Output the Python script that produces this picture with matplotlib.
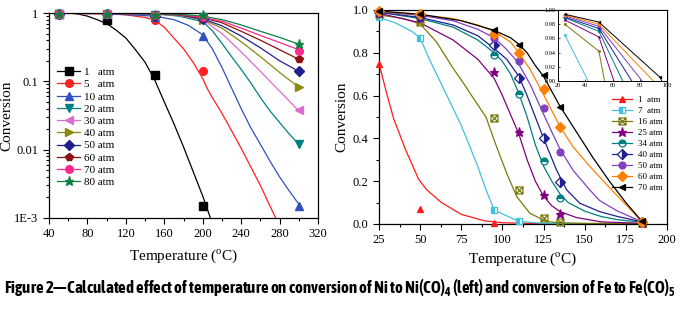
import numpy as np
import matplotlib
matplotlib.use('Agg')
import matplotlib.pyplot as plt
from matplotlib.lines import Line2D
from matplotlib.path import Path
from matplotlib.ticker import MultipleLocator, LogLocator, NullFormatter
from matplotlib import font_manager

nan = np.nan

# ---------------- left panel : Ni -> Ni(CO)4 ----------------
left_labels = ['1   atm', '5   atm', '10 atm', '20 atm', '30 atm', '40 atm', '50 atm', '60 atm', '70 atm', '80 atm']
left_cols = ['black', '#ff2020', '#3050c0', '#008080', '#dc6cd0', '#8a8a10', '#20208a', '#8b1010', '#ff2a8a', '#108040']
left_marks = ['s', 'o', '^', 'v', '<', '>', 'D', 'p', 'o', '*']

# data points (markers)
left_mk_T = [50, 100, 150, 200, 300]
left_mk = [
    [0.97, 0.80, 0.125, 0.0015, nan],
    [0.97, 0.97, 0.78, 0.14, nan],
    [0.97, 0.97, 0.88, 0.46, 0.0015],
    [0.97, 0.98, 0.93, 0.86, 0.012],
    [0.97, 0.98, 0.90, 0.84, 0.038],
    [0.97, 0.98, 0.91, 0.78, 0.082],
    [0.97, 0.98, 0.91, 0.82, 0.14],
    [0.97, 0.98, 0.92, 0.86, 0.21],
    [0.97, 0.98, 0.93, 0.88, 0.28],
    [0.97, 0.98, 0.95, 0.92, 0.35],
]

# calculated curves
c1_T = [50, 55, 60, 70, 80, 90, 100, 110, 120, 130, 140, 150, 160, 170, 180, 190, 200, 208]
c1_v = [0.97, 0.99, 1.0, 0.97, 0.9, 0.8, 0.7, 0.56, 0.43, 0.29, 0.19, 0.105, 0.05, 0.024, 0.011, 0.0048, 0.0021, 0.001]
c5_T = [50, 100, 120, 140, 150, 160, 170, 180, 190, 200, 205, 210, 220, 230, 240, 250, 260, 270, 276]
c5_v = [0.99, 0.97, 0.94, 0.86, 0.79, 0.62, 0.43, 0.3, 0.19, 0.11, 0.077, 0.058, 0.034, 0.019, 0.0105, 0.0056, 0.003, 0.0015, 0.001]
c10_T = [50, 100, 150, 170, 185, 200, 210, 220, 230, 240, 250, 260, 270, 280, 290, 300]
c10_v = [0.99, 0.98, 0.9, 0.8, 0.66, 0.48, 0.3, 0.16, 0.08, 0.04, 0.021, 0.012, 0.0068, 0.004, 0.0025, 0.0016]
c20_T = [50, 100, 150, 175, 200, 210, 220, 230, 240, 250, 260, 270, 280, 290, 300]
c20_v = [1.0, 0.99, 0.97, 0.9, 0.75, 0.55, 0.36, 0.23, 0.15, 0.095, 0.058, 0.037, 0.025, 0.017, 0.012]
cH_T = [50, 100, 150, 175, 200, 220, 240, 260, 280, 300]
c30_v = [1.0, 0.99, 0.97, 0.92, 0.8, 0.5, 0.27, 0.14, 0.072, 0.037]
c40_v = [1.0, 0.99, 0.97, 0.93, 0.8, 0.6, 0.38, 0.23, 0.135, 0.082]
c50_v = [1.0, 0.99, 0.97, 0.94, 0.82, 0.65, 0.46, 0.31, 0.2, 0.14]
c60_v = [1.0, 0.99, 0.98, 0.95, 0.85, 0.72, 0.54, 0.4, 0.29, 0.21]
c70_v = [1.0, 0.99, 0.98, 0.95, 0.86, 0.76, 0.6, 0.47, 0.37, 0.29]
c80_v = [1.0, 0.99, 0.98, 0.96, 0.9, 0.8, 0.67, 0.54, 0.44, 0.35]
left_curves = [(c1_T, c1_v), (c5_T, c5_v), (c10_T, c10_v), (c20_T, c20_v),
               (cH_T, c30_v), (cH_T, c40_v), (cH_T, c50_v), (cH_T, c60_v), (cH_T, c70_v), (cH_T, c80_v)]

# ---------------- right panel : Fe -> Fe(CO)5 ----------------
right_labels = ['1  atm', '7  atm', '16 atm', '25 atm', '34 atm', '40 atm', '50 atm', '60 atm', '70 atm']
right_cols = ['#ff1a1a', '#40c0e0', '#7a7a10', '#800080', '#008080', '#202090', '#8040c0', '#ff8000', 'black']

right_mk_T = [25, 50, 95, 110, 125, 135, 185]
right_mk = [
    [0.75, 0.07, 0.005, nan, nan, nan, nan],
    [0.965, 0.87, 0.065, 0.014, nan, nan, nan],
    [0.98, 0.942, 0.494, 0.159, 0.026, 0.011, 0.005],
    [0.986, 0.962, 0.71, 0.43, 0.135, 0.045, 0.005],
    [0.989, 0.97, 0.79, 0.607, 0.294, 0.12, 0.01],
    [0.99, 0.974, 0.836, 0.68, 0.40, 0.198, 0.01],
    [0.992, 0.977, 0.868, 0.76, 0.54, 0.338, 0.01],
    [0.993, 0.98, 0.89, 0.80, 0.63, 0.455, 0.01],
    [0.994, 0.983, 0.905, 0.836, 0.695, 0.548, 0.015],
]

r1_T = [25, 30, 34, 41, 49, 54, 63, 75, 89, 100, 125, 150, 185]
r1_v = [0.75, 0.6, 0.49, 0.35, 0.21, 0.16, 0.1, 0.045, 0.015, 0.006, 0.001, 0.0, 0.0]
r7_T = [25, 35, 45, 50, 55, 65, 75, 85, 90, 95, 110, 125, 150, 185]
r7_v = [0.965, 0.94, 0.9, 0.87, 0.78, 0.62, 0.46, 0.27, 0.16, 0.065, 0.012, 0.003, 0.0, 0.0]
r16_T = [25, 40, 50, 60, 69, 77, 83, 90, 96.5, 102.6, 108.7, 116.7, 127, 135, 150, 185]
r16_v = [0.977, 0.96, 0.935, 0.85, 0.74, 0.65, 0.58, 0.5, 0.36, 0.237, 0.128, 0.05, 0.011, 0.006, 0.003, 0.002]
r25_T = [25, 50, 70, 85, 95, 100, 105, 110, 115, 120, 125, 130, 135, 145, 160, 185]
r25_v = [0.985, 0.94, 0.86, 0.77, 0.68, 0.6, 0.51, 0.42, 0.3, 0.2, 0.13, 0.085, 0.058, 0.03, 0.01, 0.003]
r34_T = [25, 50, 70, 85, 95, 100, 105, 110, 115, 120, 125, 130, 135, 140, 150, 160, 170, 185]
r34_v = [0.99, 0.96, 0.92, 0.86, 0.8, 0.76, 0.7, 0.61, 0.5, 0.37, 0.27, 0.2, 0.14, 0.1, 0.06, 0.035, 0.02, 0.008]
r40_T = [25, 50, 70, 85, 95, 102.6, 110, 115, 120, 125, 133, 139, 147, 159, 170, 185]
r40_v = [0.99, 0.965, 0.93, 0.88, 0.82, 0.77, 0.69, 0.6, 0.5, 0.4, 0.25, 0.16, 0.097, 0.058, 0.035, 0.01]
r50_T = [25, 50, 70, 85, 95, 102, 109, 117, 124, 130, 135, 143, 153, 159, 170, 185]
r50_v = [0.992, 0.975, 0.95, 0.91, 0.87, 0.82, 0.76, 0.65, 0.53, 0.43, 0.35, 0.25, 0.16, 0.11, 0.06, 0.01]
r60_T = [25, 50, 70, 85, 95, 105, 110, 117, 123, 130, 135, 143, 153, 159, 170, 180, 185]
r60_v = [0.993, 0.978, 0.96, 0.93, 0.9, 0.85, 0.8, 0.72, 0.634, 0.53, 0.455, 0.36, 0.27, 0.22, 0.13, 0.05, 0.01]
r70_T = [25, 50, 75, 95, 105, 110, 115, 120, 125, 130, 135, 145, 155, 165, 175, 185]
r70_v = [0.995, 0.98, 0.95, 0.905, 0.87, 0.84, 0.8, 0.74, 0.69, 0.62, 0.55, 0.43, 0.31, 0.2, 0.1, 0.01]
right_curves = [(r1_T, r1_v), (r7_T, r7_v), (r16_T, r16_v), (r25_T, r25_v), (r34_T, r34_v),
                (r40_T, r40_v), (r50_T, r50_v), (r60_T, r60_v), (r70_T, r70_v)]

caption = ('Figure 2\u2014Calculated effect of temperature on conversion of Ni to Ni(CO)$_\\mathbf{4}$ '
           '(left) and conversion of Fe to Fe(CO)$_\\mathbf{5}$')

# square with a cross inside (16 atm symbol)
box_x = Path([(-1, -1), (1, -1), (1, 1), (-1, 1), (-1, -1), (-1, -1), (1, 1), (-1, 1), (1, -1)],
             [Path.MOVETO, Path.LINETO, Path.LINETO, Path.LINETO, Path.CLOSEPOLY,
              Path.MOVETO, Path.LINETO, Path.MOVETO, Path.LINETO])
# marker, fillstyle, facecolor (None -> line colour)
right_styles = [('^', 'full', None), ('s', 'left', None), (box_x, 'none', 'none'), ('*', 'full', None),
                ('o', 'top', None), ('D', 'right', None), ('o', 'full', None), ('D', 'full', None),
                ('<', 'full', None)]


def weight_num(w):
    return w if isinstance(w, int) else font_manager.weight_dict.get(w, 400)


# narrow bold sans for the caption if there is one, else plain Liberation Sans bold
fonts = font_manager.fontManager.ttflist
bold_narrow = sorted({f.name for f in fonts
                      if ('Narrow' in f.name or 'Condensed' in f.name) and weight_num(f.weight) >= 600})
if 'Liberation Sans Narrow' in bold_narrow:
    cap_font = 'Liberation Sans Narrow'
elif bold_narrow:
    cap_font = bold_narrow[0]
else:
    cap_font = 'Liberation Sans'

plt.rcParams['font.family'] = 'Liberation Serif'
plt.rcParams['mathtext.fontset'] = 'custom'
plt.rcParams['mathtext.rm'] = 'Liberation Serif'
plt.rcParams['mathtext.bf'] = cap_font + ':bold'

W, H = 680, 312
fig = plt.figure(figsize=(W / 100, H / 100), dpi=100)


def px_axes(x0, y0, x1, y1):
    return fig.add_axes([x0 / W, (H - y1) / H, (x1 - x0) / W, (y1 - y0) / H])


# ---------- left ----------
ax1 = px_axes(49, 13, 318, 218)
handles = []
for i in range(len(left_labels)):
    T, v = left_curves[i]
    ax1.plot(T, v, color=left_cols[i], lw=0.9)
    ax1.plot(left_mk_T, left_mk[i], ls='none', marker=left_marks[i], color=left_cols[i],
             ms=6.5 if left_marks[i] == '*' else 5.5, clip_on=False, zorder=5)
    handles.append(Line2D([], [], color=left_cols[i], lw=0.9, marker=left_marks[i],
                          ms=6.5 if left_marks[i] == '*' else 5.5, label=left_labels[i]))
ax1.set_yscale('log')
ax1.set_xlim(40, 320)
ax1.set_ylim(1e-3, 1)
ax1.set_xticks(np.arange(40, 321, 40))
ax1.xaxis.set_minor_locator(MultipleLocator(20))
ax1.set_yticks([1e-3, 1e-2, 1e-1, 1])
ax1.set_yticklabels(['1E-3', '0.01', '0.1', '1'])
ax1.yaxis.set_minor_locator(LogLocator(base=10, subs=np.arange(2, 10)))
ax1.yaxis.set_minor_formatter(NullFormatter())
ax1.set_xlabel('Temperature ($^{\\rm o}$C)', fontsize=11, labelpad=5)
ax1.set_ylabel('Conversion', fontsize=11, labelpad=1)
ax1.legend(handles=handles, loc='upper left', bbox_to_anchor=(0.03, 0.735), frameon=False,
           fontsize=8, borderpad=0, borderaxespad=0, labelspacing=0.22, handlelength=2.1,
           handletextpad=0.3)

# ---------- right ----------
ax2 = px_axes(379, 10, 667, 224)
handles = []
for i in range(len(right_labels)):
    T, v = right_curves[i]
    m, fs, fc = right_styles[i]
    kw = dict(marker=m, fillstyle=fs, markeredgecolor=right_cols[i], markerfacecoloralt='white',
              markerfacecolor=right_cols[i] if fc is None else fc,
              ms=6.5 if m == '*' else 5, markeredgewidth=0.9)
    ax2.plot(T, v, color=right_cols[i], lw=0.9)
    ax2.plot(right_mk_T, right_mk[i], ls='none', clip_on=False, zorder=5, **kw)
    handles.append(Line2D([], [], color=right_cols[i], lw=0.9, label=right_labels[i], **kw))
ax2.set_xlim(25, 200)
ax2.set_ylim(0, 1)
ax2.set_xticks(np.arange(25, 201, 25))
ax2.xaxis.set_minor_locator(MultipleLocator(12.5))
ax2.set_yticks(np.arange(0, 1.01, 0.2))
ax2.yaxis.set_minor_locator(MultipleLocator(0.1))
ax2.set_xlabel('Temperature ($^{\\rm o}$C)', fontsize=11, labelpad=3)
ax2.set_ylabel('Conversion', fontsize=11, labelpad=3)
ax2.legend(handles=handles, loc='upper left', bbox_to_anchor=(0.81, 0.6), frameon=False,
           fontsize=6.5, borderpad=0, borderaxespad=0, labelspacing=0.3, handlelength=2.2,
           handletextpad=0.6)

for ax in (ax1, ax2):
    ax.tick_params(which='both', direction='out', labelsize=9, width=0.8, top=False, right=False)
    ax.tick_params(which='major', length=4)
    ax.tick_params(which='minor', length=2)
    for s in ax.spines.values():
        s.set_linewidth(0.9)

# ---------- inset ----------
ax3 = px_axes(558, 10, 667, 81)
for i in range(len(right_labels)):
    m, fs, fc = right_styles[i]
    ax3.plot(right_mk_T, right_mk[i], color=right_cols[i], lw=0.7, marker=m if m is not box_x else 's',
             ms=2, markerfacecolor=right_cols[i], markeredgewidth=0.4)
ax3.set_xlim(20, 100)
ax3.set_ylim(0.90, 1.00)
ax3.set_xticks(np.arange(20, 101, 20))
ax3.set_yticks(np.arange(0.90, 1.001, 0.02))
ax3.set_yticklabels(['%.2f' % t for t in np.arange(0.90, 1.001, 0.02)])
ax3.tick_params(which='both', direction='in', labelsize=4.5, length=1.5, width=0.5, pad=1.5)
for s in ax3.spines.values():
    s.set_linewidth(0.7)

# ---------- caption ----------
cap = fig.text(0.5, 0.077, caption, ha='center', va='center', fontsize=9,
               fontweight='bold', family=cap_font)
fig.canvas.draw()
bb = cap.get_window_extent()
cap.set_fontsize(9 * 670 / bb.width)

fig.savefig('out.png', dpi=100)
